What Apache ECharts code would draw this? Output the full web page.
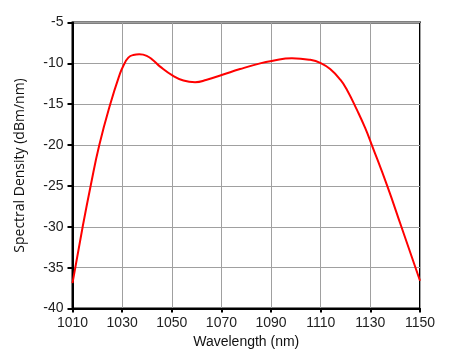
<!DOCTYPE html>
<html><head><meta charset="utf-8">
<script src="https://cdn.jsdelivr.net/npm/echarts@6/dist/echarts.min.js"></script>
<style>html,body{margin:0;padding:0;background:#fff}#c{width:450px;height:356px}</style>
</head><body><div id="c"></div>
<script>
const wavelength = [1010,1014.1,1017.3,1020.8,1025.2,1029.2,1030.5,1032.5,1034.5,1036.9,1039.9,1042.6,1045.3,1050.4,1054.7,1059.4,1064.1,1070.4,1077.5,1085.6,1090.3,1098.4,1105.8,1110.2,1113.8,1117.9,1120.6,1124.6,1127.9,1130.6,1136.8,1142.5,1150];
const density = [-36.9,-30,-25,-20,-15,-11.2,-10.3,-9.3,-8.98,-8.9,-9.08,-9.65,-10.4,-11.5,-12.1,-12.3,-12.0,-11.4,-10.7,-10.0,-9.7,-9.36,-9.57,-10.0,-10.7,-12.0,-13.25,-15.7,-17.9,-20,-25,-30,-36.6];
const xTicks = [1010,1030,1050,1070,1090,1110,1130,1150];
const yTicks = [-40,-35,-30,-25,-20,-15,-10,-5];

const chart = echarts.init(document.getElementById('c'));
chart.setOption({
  animation:false,
  grid:{left:72.5,right:30,top:22.5,bottom:47.5,show:true,borderColor:'#000',borderWidth:2,backgroundColor:'transparent'},
  xAxis:{type:'value',min:xTicks[0],max:xTicks[xTicks.length-1],interval:20,
    name:'Wavelength (nm)',nameLocation:'middle',nameGap:24,
    nameTextStyle:{fontFamily:'Liberation Sans',fontSize:14,color:'#111'},
    axisLine:{lineStyle:{color:'#000',width:2}},
    axisTick:{show:true,length:4,lineStyle:{color:'#000',width:2}},
    axisLabel:{fontFamily:'Liberation Sans',fontSize:14,color:'#222',margin:8,formatter:v=>String(v)},
    splitLine:{show:true,lineStyle:{color:'#a0a0a0',width:1}}},
  yAxis:{type:'value',min:yTicks[0],max:yTicks[yTicks.length-1],interval:5,
    name:'Spectral Density (dBm/nm)',nameLocation:'middle',nameGap:45,
    nameTextStyle:{fontFamily:'Open Sans',fontSize:14,color:'#111'},
    axisLine:{lineStyle:{color:'#000',width:2}},
    axisTick:{show:true,length:5,lineStyle:{color:'#000',width:2}},
    axisLabel:{fontFamily:'Liberation Sans',fontSize:14,color:'#222',margin:9,formatter:v=>String(v)},
    splitLine:{show:true,lineStyle:{color:'#a0a0a0',width:1}}},
  series:[{type:'line',data:wavelength.map((w,i)=>[w,density[i]]),smooth:0.5,
    showSymbol:false,lineStyle:{color:'#ff0000',width:2}}]
});
</script></body></html>
